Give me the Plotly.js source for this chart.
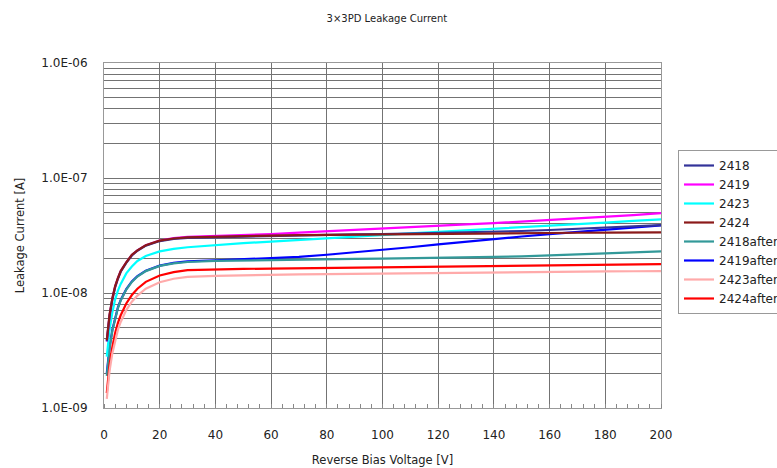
<!DOCTYPE html>
<html>
<head>
<meta charset="utf-8">
<script src="https://cdn.plot.ly/plotly-3.0.1.min.js"></script>
<style>
  html, body { margin: 0; padding: 0; background: #fff; }
  #chart { width: 777px; height: 468px; }
</style>
</head>
<body>
<div id="chart"></div>
<script>
// Reverse bias voltage sweep points [V]
const voltage = [1, 2, 3, 4, 5, 6, 8, 10, 12, 15, 20, 25, 30, 40, 50, 60, 70, 80, 90, 100,
                 110, 120, 130, 140, 150, 160, 170, 180, 190, 200];

// Leakage current per device, in nA
const i2418 = [3.8, 6.3, 8.8, 11.2, 13.3, 15.3, 18.3, 21.2, 23.3, 25.8, 28.3, 29.6, 30.2, 30.6, 31.0, 31.3, 31.7, 32.0, 32.3, 32.6,
               32.9, 33.2, 33.6, 34.0, 34.6, 35.3, 36.2, 37.1, 38.0, 39.0];
const i2419 = [3.8, 6.4, 8.9, 11.4, 13.5, 15.5, 18.5, 21.4, 23.5, 26.0, 28.6, 30.0, 30.8, 31.3, 31.8, 32.5, 33.5, 34.5, 35.5, 36.5,
               37.5, 38.5, 39.5, 40.5, 41.7, 43.0, 44.5, 46.0, 47.5, 49.5];
const i2423 = [2.8, 4.8, 6.8, 8.8, 10.5, 12.0, 14.8, 17.0, 19.0, 21.0, 23.0, 24.2, 25.0, 26.2, 27.1, 28.0, 29.0, 30.0, 31.0, 32.0,
               33.0, 34.0, 35.0, 36.2, 37.4, 38.6, 39.8, 41.0, 42.3, 43.7];
const i2424 = [3.9, 6.5, 9.0, 11.5, 13.5, 15.5, 18.5, 21.5, 23.5, 26.0, 28.5, 29.8, 30.5, 31.0, 31.3, 31.6, 31.8, 32.0, 32.2, 32.4,
               32.6, 32.8, 33.0, 33.1, 33.2, 33.3, 33.4, 33.5, 33.6, 33.7];
const i2418after = [1.9, 3.3, 4.7, 6.1, 7.4, 8.6, 10.7, 12.5, 13.9, 15.5, 17.2, 18.1, 18.6, 19.0, 19.2, 19.4, 19.6, 19.7, 19.8, 19.9,
                    20.0, 20.2, 20.4, 20.6, 20.8, 21.2, 21.6, 22.0, 22.5, 23.0];
const i2419after = [2.0, 3.4, 4.8, 6.2, 7.5, 8.7, 10.8, 12.6, 14.0, 15.6, 17.3, 18.3, 18.8, 19.2, 19.6, 20.0, 20.6, 21.5, 22.5, 23.7,
                    25.0, 26.5, 28.0, 29.5, 31.0, 32.5, 34.0, 35.5, 37.0, 38.8];
const i2423after = [1.2, 2.1, 3.0, 3.9, 4.8, 5.6, 7.1, 8.4, 9.5, 10.9, 12.4, 13.3, 13.8, 14.1, 14.3, 14.4, 14.5, 14.6, 14.7, 14.8,
                    14.9, 15.0, 15.1, 15.2, 15.25, 15.3, 15.35, 15.4, 15.45, 15.5];
const i2424after = [1.35, 2.4, 3.4, 4.5, 5.5, 6.4, 8.1, 9.6, 10.9, 12.5, 14.2, 15.2, 15.8, 16.1, 16.2, 16.3, 16.4, 16.5, 16.6, 16.7,
                    16.8, 16.9, 17.0, 17.1, 17.2, 17.3, 17.5, 17.6, 17.7, 17.8];

const seriesNames = ['2418', '2419', '2423', '2424', '2418after', '2419after', '2423after', '2424after'];
const seriesValues = [i2418, i2419, i2423, i2424, i2418after, i2419after, i2423after, i2424after];
const seriesColors = ['#333399', '#ff00ff', '#00ffff', '#8b1a1a', '#339999', '#0000ff', '#ffaaaa', '#ff0000'];

// Y-axis decade labels
const decadeLabels = ['1.0E-09', '1.0E-08', '1.0E-07', '1.0E-06'];
const xTicks = [0, 20, 40, 60, 80, 100, 120, 140, 160, 180, 200];

// log gridlines at 1..9 per decade, labels only on decades
const yTickVals = [];
const yTickText = [];
for (let d = -9; d <= -6; d++) {
  const maxK = d === -6 ? 1 : 9;
  for (let k = 1; k <= maxK; k++) {
    yTickVals.push(k * Math.pow(10, d));
    yTickText.push(k === 1 ? decadeLabels[d + 9] : '');
  }
}

// draw order: later series on top, so the unirradiated group sits above
const order = [5, 4, 7, 6, 2, 1, 0, 3];
const traces = order.map(i => ({
  type: 'scatter',
  mode: 'lines',
  name: seriesNames[i],
  x: voltage,
  y: seriesValues[i].map(v => v * 1e-9),
  line: { color: seriesColors[i], width: 2.2 },
  legendrank: i + 1
}));

const textFont = 'DejaVu Sans, Verdana, sans-serif';

const layout = {
  width: 777,
  height: 468,
  paper_bgcolor: '#ffffff',
  plot_bgcolor: '#ffffff',
  font: { family: textFont, size: 12, color: '#222' },
  margin: { l: 104, r: 116, t: 63, b: 60 },
  title: {
    text: '3×3PD Leakage Current',
    font: { family: textFont, size: 10, color: '#222' },
    x: 0.498, xref: 'container', xanchor: 'center',
    y: 1 - 18 / 468, yref: 'container', yanchor: 'middle'
  },
  xaxis: {
    range: [0, 200],
    tickvals: xTicks,
    ticktext: xTicks.map(String),
    showgrid: true,
    gridcolor: '#737373',
    gridwidth: 1,
    zeroline: false,
    showline: true,
    linecolor: '#999',
    mirror: true,
    ticks: '',
    ticklabelstandoff: 16,
    minor: { dtick: 4, ticks: 'inside', ticklen: 4, tickcolor: '#888', showgrid: false },
    tickfont: { size: 12, color: '#222' },
    title: { text: 'Reverse Bias Voltage [V]', font: { size: 11.5, color: '#222' }, standoff: 14 }
  },
  yaxis: {
    type: 'log',
    range: [-9, -6],
    tickvals: yTickVals,
    ticktext: yTickText,
    showgrid: true,
    gridcolor: '#737373',
    gridwidth: 1,
    zeroline: false,
    showline: true,
    linecolor: '#999',
    mirror: true,
    ticks: '',
    ticklabelstandoff: 13,
    tickfont: { size: 12, color: '#222' },
    title: { text: 'Leakage Current [A]', font: { size: 11.5, color: '#222' }, standoff: 14 }
  },
  legend: {
    xref: 'container', yref: 'container',
    x: 678 / 777, y: 1 - 150 / 468,
    xanchor: 'left', yanchor: 'top',
    bgcolor: '#ffffff',
    bordercolor: '#999',
    borderwidth: 1,
    font: { family: textFont, size: 12, color: '#222' },
    itemwidth: 30,
    tracegroupgap: 0
  },
  showlegend: true
};

Plotly.newPlot('chart', traces, layout, { staticPlot: true, displayModeBar: false });
</script>
</body>
</html>
